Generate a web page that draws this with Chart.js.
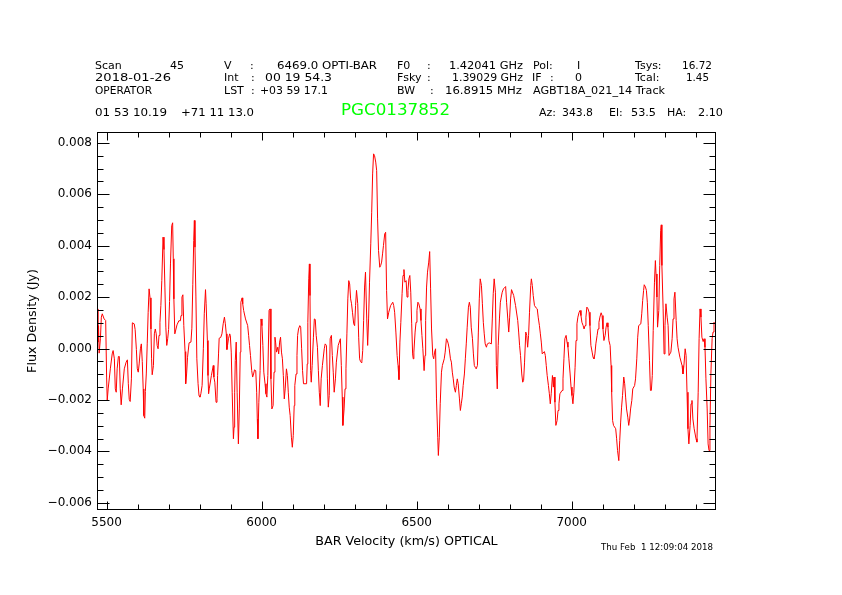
<!DOCTYPE html>
<html>
<head>
<meta charset="utf-8">
<script src="https://cdn.jsdelivr.net/npm/chart.js@4.4.1/dist/chart.umd.min.js"></script>
<style>
  html, body { margin: 0; padding: 0; background: #fff; }
  #wrap { width: 842px; height: 595px; position: relative; }
</style>
</head>
<body>
<div id="wrap"><canvas id="spec"></canvas></div>
<script>
// Spectrum: velocity (km/s) and flux density (Jy)
const velocity = [
  5469, 5472, 5474, 5476, 5480, 5483, 5486, 5492, 5497, 5500,
  5502, 5505, 5512, 5518, 5521, 5525, 5528, 5531, 5534, 5538,
  5541, 5544, 5547, 5551, 5557, 5563, 5567, 5570, 5573, 5576,
  5580, 5583, 5589, 5592, 5596, 5599, 5602, 5605, 5609, 5612,
  5615, 5618, 5620, 5623, 5625, 5628, 5631, 5634, 5637, 5640,
  5643, 5645, 5647, 5651, 5654, 5657, 5660, 5663, 5666, 5669,
  5672, 5675, 5678, 5682, 5685, 5688, 5691, 5694, 5697, 5700,
  5703, 5706, 5710, 5713, 5715, 5717, 5720, 5727, 5733, 5738,
  5740, 5743, 5746, 5749, 5753, 5755, 5758, 5761, 5766, 5772,
  5775, 5778, 5781, 5783, 5785, 5788, 5791, 5795, 5798, 5801,
  5804, 5808, 5812, 5815, 5819, 5821, 5825, 5827, 5829, 5831,
  5838, 5844, 5846, 5849, 5853, 5856, 5858, 5861, 5863, 5868,
  5872, 5876, 5880, 5883, 5886, 5888, 5890, 5893, 5897, 5899,
  5902, 5905, 5909, 5911, 5913, 5915, 5918, 5921, 5925, 5928,
  5931, 5933, 5937, 5939, 5942, 5948, 5955, 5958, 5961, 5964,
  5968, 5971, 5974, 5977, 5981, 5984, 5986, 5988, 5991, 5995,
  5998, 6001, 6004, 6007, 6011, 6014, 6017, 6020, 6024, 6027,
  6030, 6033, 6037, 6040, 6043, 6045, 6048, 6052, 6055, 6058,
  6061, 6064, 6067, 6070, 6073, 6076, 6080, 6083, 6086, 6089,
  6092, 6096, 6099, 6102, 6105, 6107, 6111, 6114, 6116, 6119,
  6123, 6126, 6129, 6132, 6135, 6145, 6147, 6149, 6152, 6154,
  6156, 6158, 6160, 6163, 6167, 6170, 6173, 6176, 6180, 6183,
  6186, 6189, 6192, 6196, 6202, 6205, 6209, 6212, 6215, 6218,
  6221, 6225, 6228, 6231, 6234, 6238, 6241, 6247, 6254, 6257,
  6260, 6262, 6266, 6269, 6272, 6275, 6278, 6281, 6284, 6287,
  6290, 6293, 6297, 6300, 6303, 6306, 6310, 6313, 6316, 6319,
  6323, 6326, 6329, 6332, 6335, 6339, 6342, 6345, 6348, 6352,
  6355, 6358, 6361, 6364, 6368, 6371, 6374, 6377, 6381, 6384,
  6387, 6390, 6393, 6397, 6400, 6403, 6406, 6410, 6416, 6423,
  6426, 6429, 6433, 6437, 6440, 6443, 6446, 6449, 6453, 6456,
  6459, 6462, 6466, 6469, 6472, 6475, 6478, 6481, 6484, 6487,
  6489, 6491, 6495, 6498, 6501, 6504, 6507, 6511, 6514, 6517,
  6520, 6524, 6527, 6529, 6532, 6535, 6539, 6542, 6545, 6548,
  6552, 6555, 6558, 6561, 6564, 6568, 6570, 6573, 6576, 6580,
  6583, 6589, 6592, 6596, 6599, 6602, 6605, 6609, 6612, 6615,
  6618, 6621, 6625, 6628, 6631, 6634, 6638, 6641, 6644, 6647,
  6650, 6654, 6657, 6660, 6663, 6667, 6670, 6673, 6676, 6680,
  6683, 6686, 6689, 6692, 6696, 6699, 6702, 6705, 6709, 6712,
  6715, 6718, 6721, 6725, 6728, 6734, 6741, 6744, 6747, 6750,
  6754, 6757, 6760, 6763, 6767, 6770, 6773, 6776, 6780, 6783,
  6787, 6790, 6794, 6797, 6800, 6803, 6806, 6813, 6819, 6826,
  6829, 6832, 6835, 6839, 6842, 6845, 6848, 6852, 6855, 6858,
  6861, 6864, 6868, 6870, 6873, 6876, 6880, 6886, 6889, 6892,
  6896, 6899, 6902, 6905, 6912, 6915, 6918, 6921, 6925, 6928,
  6931, 6934, 6938, 6941, 6943, 6946, 6949, 6953, 6956, 6959,
  6962, 6969, 6972, 6975, 6978, 6982, 6985, 6988, 6991, 6995,
  6998, 7001, 7004, 7007, 7011, 7014, 7017, 7020, 7024, 7027,
  7030, 7033, 7037, 7040, 7043, 7046, 7049, 7053, 7056, 7059,
  7062, 7066, 7069, 7072, 7075, 7078, 7082, 7085, 7088, 7091,
  7095, 7098, 7101, 7104, 7108, 7111, 7114, 7117, 7120, 7124,
  7127, 7129, 7132, 7135, 7142, 7145, 7148, 7152, 7155, 7158,
  7161, 7164, 7168, 7171, 7174, 7177, 7181, 7184, 7187, 7190,
  7194, 7197, 7203, 7206, 7210, 7213, 7216, 7223, 7226, 7229,
  7232, 7234, 7238, 7241, 7244, 7247, 7251, 7254, 7257, 7260,
  7263, 7267, 7270, 7272, 7275, 7277, 7281, 7284, 7287, 7289,
  7291, 7295, 7298, 7301, 7304, 7308, 7311, 7314, 7320, 7324,
  7327, 7330, 7333, 7337, 7340, 7343, 7349, 7356, 7359, 7362,
  7366, 7369, 7372, 7375, 7378, 7382, 7385, 7388, 7391, 7395,
  7401, 7404, 7408, 7411, 7414, 7417, 7420, 7424, 7427, 7430,
  7433, 7437, 7440, 7443, 7446, 7449, 7453, 7456, 7459, 7463
];
const flux = [
  0.00154, 0.00025, 0.00089, -0.00018, 0.00038, 0.00122, 0.00135, 0.00115, 0.00109, -0.00111,
  -0.00202, -0.00157, -0.00079, -0.00021, -0.00008, -0.00040, -0.00157, -0.00170, -0.00079, -0.00031,
  -0.00031, -0.00157, -0.00219, -0.00157, -0.00079, -0.00053, -0.00044, -0.00137, -0.00198, -0.00206,
  -0.00118, 0.00100, 0.00096, 0.00074, -0.00004, -0.00079, -0.00092, -0.00060, -0.00001, 0.00018,
  -0.00051, -0.00157, -0.00261, -0.00271, -0.00167, -0.00099, 0.00018, 0.00141, 0.00232, 0.00197,
  0.00076, -0.00040, -0.00102, -0.00066, 0.00057, 0.00076, 0.00057, 0.00012, -0.00001, 0.00051,
  0.00102, 0.00167, 0.00264, 0.00433, 0.00385, 0.00239, 0.00083, 0.00012, 0.00038, 0.00074,
  0.00183, 0.00329, 0.00478, 0.00489, 0.00349, 0.00193, 0.00057, 0.00092, 0.00108, 0.00108,
  0.00128, 0.00200, 0.00209, 0.00089, -0.00012, -0.00137, -0.00099, -0.00034, 0.00022, 0.00025,
  0.00079, 0.00248, 0.00420, 0.00498, 0.00394, 0.00204, -0.00040, -0.00137, -0.00183, -0.00189,
  -0.00176, -0.00144, -0.00001, 0.00135, 0.00229, 0.00174, 0.00031, -0.00105, -0.00176, -0.00157,
  -0.00105, -0.00066, -0.00111, -0.00131, -0.00209, -0.00196, -0.00105, -0.00021, 0.00040, 0.00043,
  0.00057, 0.00096, 0.00122, 0.00096, 0.00057, -0.00004, 0.00012, 0.00038, 0.00057, 0.00051,
  -0.00014, -0.00170, -0.00351, -0.00306, -0.00170, -0.00047, 0.00025, -0.00170, -0.00371, -0.00235,
  -0.00014, 0.00180, 0.00197, 0.00174, 0.00148, 0.00115, 0.00089, 0.00051, 0.00012, -0.00027,
  -0.00086, -0.00111, -0.00099, -0.00083, -0.00086, -0.00170, -0.00274, -0.00351, -0.00209, -0.00086,
  0.00115, 0.00089, 0.00012, -0.00092, -0.00137, -0.00176, -0.00189, -0.00105, 0.00148, 0.00154,
  -0.00118, -0.00235, -0.00222, -0.00092, 0.00044, 0.00025, -0.00014, 0.00005, -0.00021, 0.00025,
  0.00044, -0.00014, -0.00040, -0.00105, -0.00196, -0.00157, -0.00079, -0.00105, -0.00170, -0.00228,
  -0.00261, -0.00345, -0.00384, -0.00338, -0.00222, -0.00144, -0.00099, -0.00027, 0.00051, 0.00076,
  0.00089, 0.00083, -0.00001, -0.00086, -0.00137, -0.00137, -0.00060, 0.00102, 0.00271, 0.00329,
  0.00206, -0.00086, -0.00131, -0.00066, 0.00044, 0.00115, 0.00113, 0.00051, 0.00005, -0.00086,
  -0.00170, -0.00222, -0.00118, -0.00066, -0.00001, 0.00018, 0.00012, -0.00118, -0.00228, -0.00183,
  0.00038, 0.00051, -0.00027, -0.00092, -0.00170, -0.00118, -0.00053, 0.00012, 0.00038, -0.00066,
  -0.00189, -0.00299, -0.00235, -0.00157, -0.00079, 0.00057, 0.00193, 0.00264, 0.00251, 0.00193,
  0.00174, 0.00141, 0.00096, 0.00089, 0.00167, 0.00226, 0.00174, 0.00044, -0.00040, -0.00051,
  -0.00056, -0.00008, 0.00109, 0.00239, 0.00297, 0.00115, 0.00012, 0.00115, 0.00258, 0.00407,
  0.00530, 0.00679, 0.00757, 0.00751, 0.00725, 0.00692, 0.00504, 0.00381, 0.00316, 0.00323,
  0.00336, 0.00368, 0.00401, 0.00446, 0.00452, 0.00226, 0.00115, 0.00141, 0.00167, 0.00180,
  0.00167, 0.00141, 0.00064, -0.00027, -0.00066, -0.00121, 0.00025, 0.00102, 0.00213, 0.00284,
  0.00307, 0.00258, 0.00264, 0.00200, 0.00226, 0.00271, 0.00284, 0.00219, 0.00096, -0.00021,
  -0.00040, -0.00014, 0.00064, 0.00102, 0.00148, 0.00180, 0.00174, 0.00154, 0.00109, 0.00051,
  -0.00001, -0.00086, -0.00027, 0.00109, 0.00239, 0.00297, 0.00336, 0.00377, 0.00232, 0.00076,
  -0.00027, -0.00040, -0.00014, -0.00001, -0.00196, -0.00345, -0.00416, -0.00345, -0.00215, -0.00092,
  -0.00066, -0.00040, -0.00014, 0.00038, 0.00031, 0.00018, -0.00001, -0.00040, -0.00053, -0.00092,
  -0.00118, -0.00150, -0.00170, -0.00144, -0.00118, -0.00137, -0.00196, -0.00241, -0.00215, -0.00189,
  -0.00144, -0.00099, -0.00040, 0.00018, 0.00083, 0.00161, 0.00180, 0.00161, 0.00083, 0.00038,
  -0.00021, -0.00066, -0.00073, -0.00079, -0.00066, 0.00064, 0.00193, 0.00271, 0.00245, 0.00174,
  0.00102, 0.00057, 0.00018, 0.00005, 0.00018, 0.00022, 0.00018, 0.00115, 0.00213, 0.00271,
  0.00219, -0.00066, -0.00157, 0.00012, 0.00115, 0.00180, 0.00200, 0.00219, 0.00232, 0.00236,
  0.00241, 0.00180, 0.00115, 0.00064, 0.00122, 0.00193, 0.00229, 0.00206, 0.00167, 0.00109,
  0.00064, 0.00012, -0.00027, -0.00099, -0.00131, -0.00124, -0.00053, 0.00064, 0.00051, 0.00005,
  0.00051, 0.00141, 0.00245, 0.00271, 0.00245, 0.00206, 0.00167, 0.00157, 0.00154, 0.00122,
  0.00089, 0.00057, 0.00025, -0.00021, -0.00012, -0.00027, -0.00066, -0.00105, -0.00144, -0.00176,
  -0.00215, -0.00176, -0.00105, -0.00150, -0.00111, -0.00209, -0.00299, -0.00280, -0.00241, -0.00215,
  -0.00176, -0.00163, -0.00118, -0.00040, 0.00038, 0.00051, 0.00025, 0.00005, -0.00040, -0.00099,
  -0.00150, -0.00183, -0.00215, -0.00170, -0.00073, 0.00031, 0.00096, 0.00122, 0.00141, 0.00148,
  0.00128, 0.00102, 0.00089, 0.00076, 0.00089, 0.00122, 0.00161, 0.00154, 0.00141, 0.00089,
  0.00012, -0.00014, -0.00034, -0.00040, -0.00021, 0.00018, 0.00051, 0.00076, 0.00102, 0.00122,
  0.00139, 0.00128, 0.00076, 0.00031, 0.00051, 0.00083, 0.00100, 0.00083, 0.00031, 0.00012,
  -0.00066, -0.00170, -0.00280, -0.00299, -0.00312, -0.00351, -0.00397, -0.00436, -0.00358, -0.00286,
  -0.00228, -0.00183, -0.00111, -0.00137, -0.00189, -0.00235, -0.00267, -0.00299, -0.00274, -0.00235,
  -0.00202, -0.00157, -0.00144, -0.00118, -0.00040, 0.00044, 0.00089, 0.00096, 0.00135, 0.00187,
  0.00226, 0.00248, 0.00239, 0.00226, 0.00180, 0.00089, -0.00047, -0.00163, -0.00163, -0.00105,
  0.00070, 0.00258, 0.00342, 0.00290, 0.00200, 0.00083, 0.00148, 0.00323, 0.00459, 0.00481,
  0.00323, 0.00154, -0.00021, 0.00089, 0.00174, 0.00122, 0.00089, -0.00027, -0.00014, 0.00038,
  0.00115, 0.00193, 0.00219, 0.00109, 0.00038, 0.00005, -0.00034, -0.00066, -0.00099, -0.00066,
  -0.00001, -0.00027, -0.00170, -0.00312, -0.00371, -0.00299, -0.00215, -0.00202, -0.00274, -0.00312,
  -0.00351, -0.00364, -0.00170, 0.00038, 0.00154, 0.00122, 0.00044, 0.00027, 0.00038, 0.00005,
  -0.00118, -0.00235, -0.00371, -0.00397, -0.00299, -0.00099, 0.00038, 0.00064, 0.00102, 0.00096
];

// Axis ticks
const xMajorTicks = [5500, 6000, 6500, 7000];
const xMinorTicks = [5500, 5600, 5700, 5800, 5900, 6000, 6100, 6200, 6300, 6400,
                     6500, 6600, 6700, 6800, 6900, 7000, 7100, 7200, 7300, 7400];
const yMajorTicks = [-0.006, -0.004, -0.002, 0, 0.002, 0.004, 0.006, 0.008];
const yTickLabels = ['\u22120.006', '\u22120.004', '\u22120.002', '0.000', '0.002', '0.004', '0.006', '0.008'];
const yMinorTicks = [-0.006, -0.0055, -0.005, -0.0045, -0.004, -0.0035, -0.003, -0.0025,
                     -0.002, -0.0015, -0.001, -0.0005, 0, 0.0005, 0.001, 0.0015, 0.002,
                     0.0025, 0.003, 0.0035, 0.004, 0.0045, 0.005, 0.0055, 0.006, 0.0065,
                     0.007, 0.0075, 0.008];

const FONT = 'DejaVu Sans';

// header block text (GBTIDL style), positions in px; 4th item = width to fit
const header = [
  ['Scan', 95, 66], ['45', 170, 66], ['V', 224, 66], [':', 250, 66],
  ['6469.0 OPTI-BAR', 277, 66, 100], ['F0', 397, 66], [':', 427, 66],
  ['1.42041 GHz', 449, 66, 74], ['Pol:', 533, 66], ['I', 577, 66],
  ['Tsys:', 635, 66], ['16.72', 682, 66, 30],
  ['2018-01-26', 95, 78, 76], ['Int', 224, 78], [':', 251, 78],
  ['00 19 54.3', 265, 78, 67], ['Fsky', 397, 78], [':', 427, 78],
  ['1.39029 GHz', 452, 78, 71], ['IF', 532, 78], [':', 550, 78], ['0', 575, 78],
  ['Tcal:', 635, 78], ['1.45', 686, 78, 23],
  ['OPERATOR', 95, 91, 57], ['LST', 224, 91], [':', 251, 91],
  ['+03 59 17.1', 260, 91, 68], ['BW', 397, 91], [':', 430, 91],
  ['16.8915 MHz', 445, 91, 77], ['AGBT18A_021_14 Track', 533, 91, 132],
  ['01 53 10.19', 95, 113, 72], ['+71 11 13.0', 181, 113, 73],
  ['Az:', 539, 113], ['343.8', 562, 113, 31], ['El:', 609, 113], ['53.5', 631, 113, 25],
  ['HA:', 667, 113], ['2.10', 698, 113, 25]
];

function txt(ctx, s, x, y, w, size, color) {
  ctx.save();
  ctx.font = size + 'px "' + FONT + '"';
  ctx.fillStyle = color || '#000';
  ctx.textBaseline = 'middle';
  ctx.textAlign = 'left';
  const k = w ? w / ctx.measureText(s).width : 1;
  ctx.translate(x, y);
  ctx.scale(k, 1);
  ctx.fillText(s, 0, 0);
  ctx.restore();
}

const isYMajor = v => yMajorTicks.findIndex(m => Math.abs(m - v) < 1e-9);

// frame, inward ticks on all sides and the header texts
const idlFrame = {
  id: 'idlFrame',
  afterDraw(chart) {
    const ctx = chart.ctx, a = chart.chartArea;
    const L = Math.round(a.left) + 0.5, R = Math.round(a.right) - 0.5;
    const T = Math.round(a.top) + 0.5, B = Math.round(a.bottom) - 0.5;
    ctx.save();
    ctx.strokeStyle = '#000';
    ctx.lineWidth = 1;
    ctx.strokeRect(L, T, R - L, B - T);
    ctx.beginPath();
    chart.scales.x.ticks.forEach(t => {
      const px = Math.round(chart.scales.x.getPixelForValue(t.value)) + 0.5;
      const len = xMajorTicks.includes(t.value) ? 8 : 5;
      ctx.moveTo(px, B); ctx.lineTo(px, B - len);
      ctx.moveTo(px, T); ctx.lineTo(px, T + len);
    });
    chart.scales.y.ticks.forEach(t => {
      const py = Math.round(chart.scales.y.getPixelForValue(t.value)) + 0.5;
      const len = isYMajor(t.value) >= 0 ? 12 : 6;
      ctx.moveTo(L, py); ctx.lineTo(L + len, py);
      ctx.moveTo(R, py); ctx.lineTo(R - len, py);
    });
    ctx.stroke();
    ctx.restore();

    header.forEach(h => txt(ctx, h[0], h[1], h[2], h[3], 11, '#000'));
    txt(ctx, 'PGC0137852', 341, 111, 109, 16.5, '#00ff00');
    txt(ctx, 'Thu Feb  1 12:09:04 2018', 601, 548, 112, 9, '#000');
  }
};

new Chart(document.getElementById('spec'), {
  type: 'line',
  data: {
    datasets: [{
      data: velocity.map((v, i) => ({ x: v, y: flux[i] })),
      borderColor: '#ff0000',
      borderWidth: 1,
      pointRadius: 0,
      tension: 0,
      fill: false
    }]
  },
  options: {
    responsive: true,
    maintainAspectRatio: false,
    animation: false,
    layout: { padding: { left: 0, right: 126, top: 132, bottom: 0 } },
    plugins: { legend: { display: false }, tooltip: { enabled: false } },
    scales: {
      x: {
        type: 'linear',
        min: 5469,
        max: 7465.5,
        afterBuildTicks: s => { s.ticks = xMinorTicks.map(v => ({ value: v })); },
        afterFit: s => { s.height = 85; },
        grid: { display: false, drawTicks: false },
        border: { display: false },
        ticks: {
          autoSkip: false, maxRotation: 0, padding: 6, color: '#000',
          font: { family: FONT, size: 12 },
          callback: v => xMajorTicks.includes(v) ? String(v) : ''
        },
        title: {
          display: true, text: 'BAR Velocity (km/s) OPTICAL', color: '#000',
          font: { family: FONT, size: 12.7 }, padding: { top: 0, bottom: 46 }
        }
      },
      y: {
        min: -0.00628,
        max: 0.00842,
        afterBuildTicks: s => { s.ticks = yMinorTicks.map(v => ({ value: v })); },
        afterFit: s => { s.width = 97; },
        grid: { display: false, drawTicks: false },
        border: { display: false },
        ticks: {
          autoSkip: false, padding: 5, color: '#000',
          font: { family: FONT, size: 12 },
          callback: v => { const i = isYMajor(v); return i >= 0 ? yTickLabels[i] : ''; }
        },
        title: {
          display: true, text: 'Flux Density (Jy)', color: '#000',
          font: { family: FONT, size: 12.7 }, padding: { top: 25, bottom: 0 }
        }
      }
    }
  },
  plugins: [idlFrame]
});
</script>
</body>
</html>
